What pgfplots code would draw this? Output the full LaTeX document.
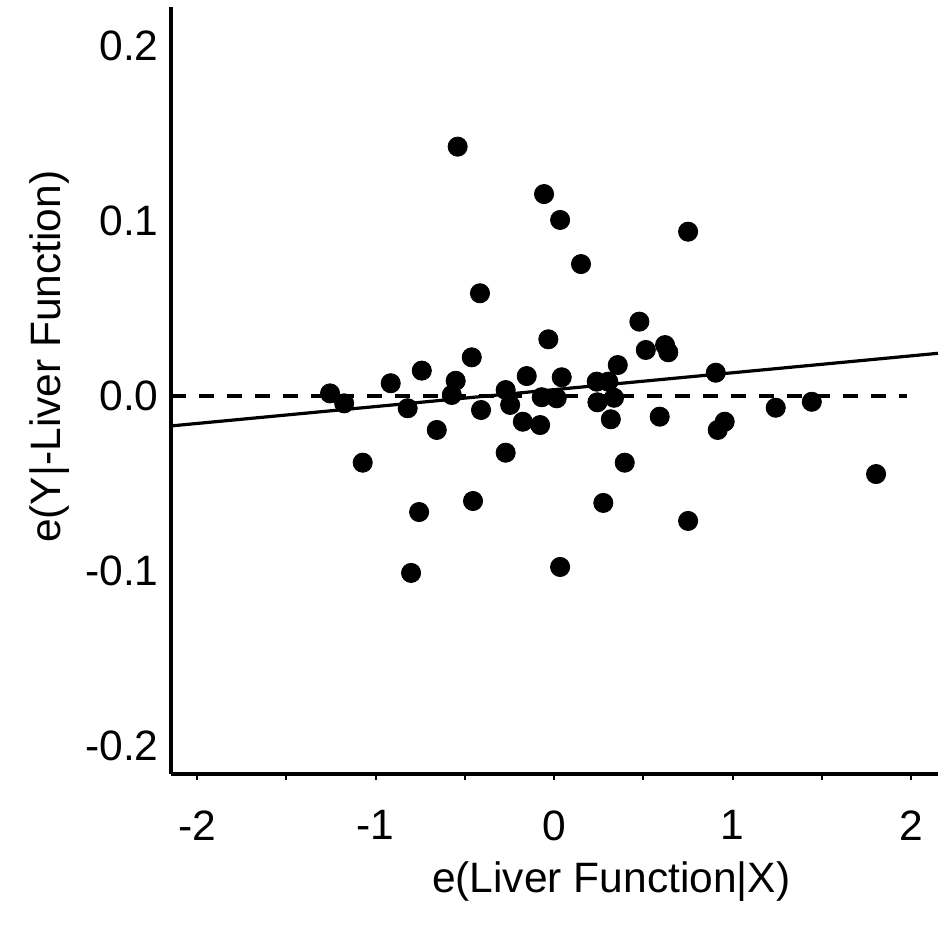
\documentclass[border=0pt]{standalone}
\usepackage{fontspec}
\setmainfont{Liberation Sans}
\usepackage{pgfplots}
\pgfplotsset{compat=1.18}
\pgfplotstableread{
x y
-1.255 0.0015
-1.176 -0.0042
-0.915 0.0073
-0.741 0.0145
-0.820 -0.0070
-0.657 -0.0194
-1.072 -0.0381
-0.551 0.0087
-0.573 0.0006
-0.461 0.0221
-0.415 0.0587
-0.454 -0.0600
-0.271 -0.0324
-0.271 0.0034
-0.246 -0.0051
-0.409 -0.0080
-0.153 0.0114
-0.032 0.0324
-0.175 -0.0147
-0.078 -0.0166
-0.069 -0.0007
0.015 -0.0013
0.043 0.0107
0.239 0.0082
0.243 -0.0036
0.304 0.0082
0.336 -0.0010
0.318 -0.0133
0.357 0.0177
0.478 0.0425
0.514 0.0263
0.622 0.0291
0.640 0.0250
0.592 -0.0118
0.906 0.0133
0.956 -0.0147
0.917 -0.0194
1.242 -0.0067
1.444 -0.0033
0.396 -0.0381
0.276 -0.0611
-0.540 0.1425
-0.056 0.1154
0.034 0.1006
0.751 0.0939
0.151 0.0754
-0.756 -0.0663
0.751 -0.0714
0.034 -0.0977
-0.801 -0.1011
1.804 -0.0446
}\pts
\begin{document}
\begin{tikzpicture}
\useasboundingbox (-85.5pt,-78.5pt) rectangle (389.5pt,387pt);
\begin{axis}[
  at={(0,0)}, anchor=south west,
  scale only axis, width=383.5pt, height=383.5pt,
  xmin=-2.146, xmax=2.151, ymin=-0.2160, ymax=0.2223,
  axis x line*=bottom, axis y line*=left,
  axis line style={line width=2pt},
  clip=false,
  xtick={-2,-1,0,1,2}, xticklabels={{-2},{-1},{0},{1},{2}},
  minor xtick={-1.5,-0.5,0.5,1.5},
  ytick={-0.2,-0.1,0,0.1,0.2}, yticklabels={{-0.2},{-0.1},{0.0},{0.1},{0.2}},
  ytick style={draw=none},
  xtick style={line width=1pt, black},
  tick align=outside,
  major tick length=3pt, minor tick length=3pt,
  tick label style={font=\fontsize{21.25}{25}\selectfont},
  xticklabel style={anchor=north, inner sep=0pt, yshift=-15pt},
  yticklabel style={anchor=east, inner sep=0pt, xshift=-3pt},
]
\addplot[only marks, mark=*, mark size=4.8pt, black] table {\pts};
\addplot[black, line width=1.6pt] coordinates {(-2.146,-0.0171) (2.151,0.0244)};
\addplot[black, line width=2pt, dash pattern=on 7.5pt off 6.5pt] coordinates {(-2.146,0) (1.98,0)};
\node[font=\fontsize{21.25}{25}\selectfont, rotate=90] at ([xshift=-60.5pt]rel axis cs:0,0.544) {e(Y|-Liver Function)};
\node[font=\fontsize{21.25}{25}\selectfont] at ([yshift=-54pt]rel axis cs:0.574,0) {e(Liver Function|X)};
\end{axis}
\end{tikzpicture}
\end{document}
